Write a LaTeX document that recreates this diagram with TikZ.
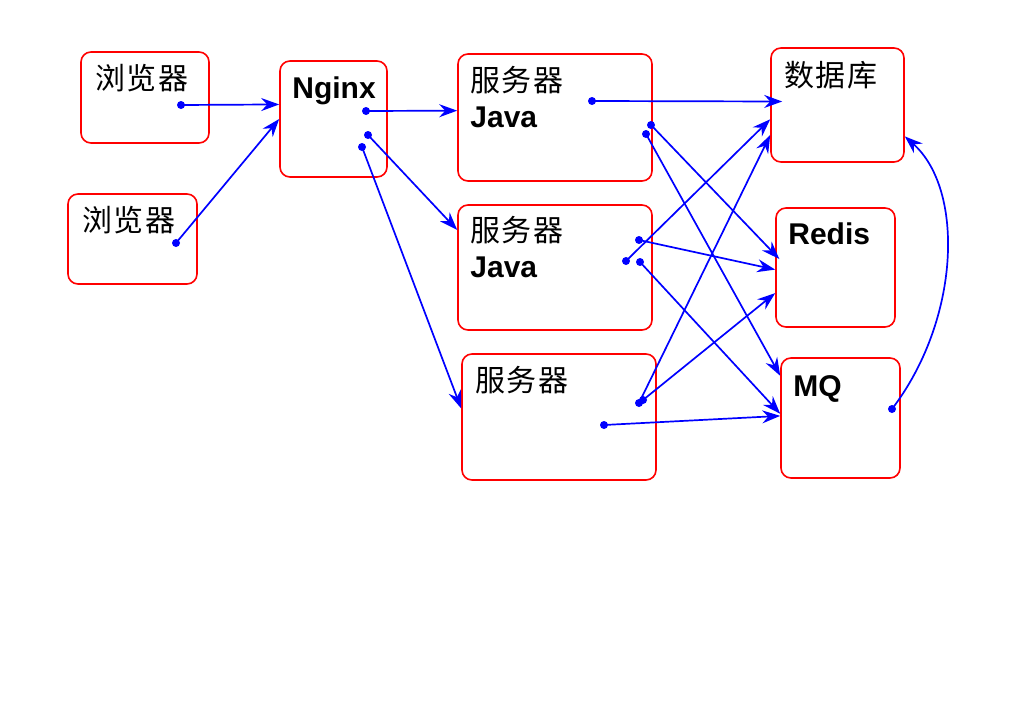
\documentclass[tikz,border=0pt]{standalone}
\usepackage{fontspec}
\setsansfont{Liberation Sans}
\newfontfamily\cjkfont{Noto Sans CJK SC}[LetterSpace=5]
\usetikzlibrary{arrows.meta, positioning}

\begin{document}
\begin{tikzpicture}[x=0.5pt, y=-0.5pt]
        \tikzset{
            box/.style={draw=red, line width=0.8pt, rounded corners=5pt, inner sep=0pt}, % red frames
            cjk/.style={font=\cjkfont\fontsize{15}{18}\selectfont, inner sep=0pt, anchor=base west},
            latin/.style={font=\sffamily\bfseries\fontsize{15}{18}\selectfont, inner sep=0pt, anchor=base west},
            dot/.style={circle, fill=blue, inner sep=0pt, minimum size=4pt}, % start of a link
            link/.style={draw=blue, line width=0.85pt, -{Stealth[length=9pt, width=6.5pt, inset=3pt]}},
            }
        \useasboundingbox (0,0) rectangle (1024,728);

        % boxes
        \node[box, minimum width=64pt, minimum height=45.5pt] (browser_a) at (145,97.5) {};
        \node[box, minimum width=64.5pt, minimum height=45pt] (browser_b) at (132.5,239) {};
        \node[box, minimum width=53.5pt, minimum height=58pt] (nginx) at (333.5,119) {};
        \node[box, minimum width=97pt, minimum height=63.5pt] (server_a) at (555,117.5) {};
        \node[box, minimum width=97pt, minimum height=62.5pt] (server_b) at (555,267.5) {};
        \node[box, minimum width=97pt, minimum height=63pt] (server_c) at (559,417) {};
        \node[box, minimum width=66.5pt, minimum height=57pt] (database) at (837.5,105) {};
        \node[box, minimum width=59.5pt, minimum height=59.5pt] (redis) at (835.5,267.5) {};
        \node[box, minimum width=59.5pt, minimum height=60pt] (mq) at (840.5,418) {};

        % texts
        \node[cjk] (browser_a_text) at (95,90) {浏览器};
        \node[cjk] (browser_b_text) at (82,231) {浏览器};
        \node[latin] (nginx_text) at (292,98) {Nginx};
        \node[cjk] (server_a_text) at (470,91) {服务器};
        \node[latin] (server_a_java) at (470,127) {Java};
        \node[cjk] (server_b_text) at (470,241) {服务器};
        \node[latin] (server_b_java) at (470,277) {Java};
        \node[cjk] (server_c_text) at (475,391) {服务器};
        \node[cjk] (database_text) at (784,86) {数据库};
        \node[latin] (redis_text) at (788,244) {Redis};
        \node[latin] (mq_text) at (793,396) {MQ};

        % link starts
        \node[dot] (browser_a_out) at (181,105) {};
        \node[dot] (browser_b_out) at (176,243) {};
        \node[dot] (nginx_out_a) at (366,111) {};
        \node[dot] (nginx_out_b) at (368,135) {};
        \node[dot] (nginx_out_c) at (362,147) {};
        \node[dot] (server_a_db) at (592,101) {};
        \node[dot] (server_a_redis) at (651,125) {};
        \node[dot] (server_a_mq) at (646,134) {};
        \node[dot] (server_b_redis) at (639,240) {};
        \node[dot] (server_b_db) at (626,261) {};
        \node[dot] (server_b_mq) at (640,262) {};
        \node[dot] (server_c_db) at (639,403) {};
        \node[dot] (server_c_redis) at (643,400) {};
        \node[dot] (server_c_mq) at (604,425) {};
        \node[dot] (mq_out) at (892,409) {};

        % browser paths
        \path[link] (browser_a_out.center) -- (nginx.165);
        \path[link] (browser_b_out.center) -- (nginx.west);

        % nginx paths
        \path[link] (nginx_out_a.center) -- (server_a.176);
        \path[link] (nginx_out_b.center) -- (server_b.159);
        \path[link] (nginx_out_c.center) -- (server_c.175);

        % server paths
        \path[link, shorten >=-6pt] (server_a_db.center) -- (database.177);
        \path[link, shorten >=-3pt] (server_a_redis.center) -- (redis.168);
        \path[link] (server_a_mq.center) -- (mq.145);
        \path[link] (server_b_redis.center) -- (redis.182);
        \path[link] (server_b_db.center) -- (database.192);
        \path[link] (server_b_mq.center) -- (mq.176);
        \path[link] (server_c_db.center) -- (database.204);
        \path[link] (server_c_redis.center) -- (redis.203);
        \path[link] (server_c_mq.center) -- (mq.178);

        % mq back to database
        \path[link] (mq_out.center) .. controls (960,320) and (965,190) .. (database.335);
    \end{tikzpicture}
\end{document}
